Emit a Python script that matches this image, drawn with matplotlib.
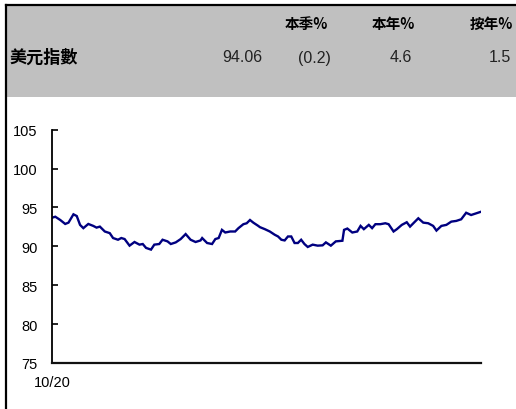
import matplotlib
matplotlib.use("Agg")
import matplotlib.pyplot as plt
from matplotlib.patches import Rectangle
from matplotlib.lines import Line2D

# US dollar index, trading-day offsets from the start of the window and levels
days = [0, 2, 5, 8, 10, 13, 15, 17, 19, 22, 25, 27, 29, 32, 35, 37, 40, 42, 44, 47,
        50, 53, 55, 57, 60, 62, 65, 67, 70, 72, 75, 78, 81, 84, 87, 90, 91, 94, 97, 99,
        101, 103, 105, 108, 111, 113, 116, 118, 120, 122, 125,
        126, 129, 132, 135, 137, 139, 141, 143, 145, 147, 149, 151, 153, 155, 158, 161,
        164, 166, 169, 172, 176, 177, 179, 182, 185, 187, 189, 192, 194, 196, 199, 202,
        204, 207, 209, 212, 215, 217, 219, 222, 225, 228, 231, 233, 236, 239, 242, 245,
        248, 251, 254, 257, 260]
dxy = [93.68, 93.81, 93.39, 92.88, 93.05, 94.12, 93.90, 92.76, 92.34, 92.88,
       92.63, 92.41, 92.54, 91.91, 91.70, 91.07, 90.85, 91.07, 90.94, 90.09,
       90.56, 90.22, 90.30, 89.80, 89.58, 90.22, 90.30, 90.85, 90.64, 90.30,
       90.51, 90.94, 91.58, 90.85, 90.56, 90.76, 91.07, 90.43, 90.30, 90.94,
       91.07, 92.12, 91.78, 91.91, 91.91, 92.34, 92.85, 92.97, 93.39, 93.05,
       92.63,
       92.47, 92.21, 91.91, 91.49, 91.27, 90.85, 90.76, 91.27, 91.27, 90.43,
       90.43, 90.85, 90.30, 89.92, 90.22, 90.09, 90.13, 90.51, 90.09, 90.64,
       90.72, 92.12, 92.29, 91.78, 91.91, 92.63, 92.21, 92.76, 92.34, 92.85,
       92.85, 92.97, 92.85, 91.91, 92.21, 92.76, 93.10, 92.54, 92.97, 93.61,
       93.05, 92.97, 92.63, 92.03, 92.63, 92.76, 93.18, 93.27, 93.48, 94.32,
       94.03, 94.24, 94.45]
y_ticks = [75, 80, 85, 90, 95, 100, 105]
x_tick_labels = ["10/20"]

# Summary table
row_name = "美元指數"
col_heads = ["本季%", "本年%", "按年%"]
row_values = ["94.06", "(0.2)", "4.6", "1.5"]

W, H = 516, 410
fig = plt.figure(figsize=(W / 100, H / 100), dpi=100)
fig.patch.set_facecolor("white")

cjk = ["Noto Sans CJK TC", "Liberation Sans", "DejaVu Sans"]
latin = ["Liberation Sans", "DejaVu Sans"]

def fx(px):
    return px / W

def fy(py):
    return 1 - py / H

# grey header band with black frame on top and left
fig.add_artist(Rectangle((fx(7), fy(98)), fx(W - 7), fy(7) - fy(98),
                         transform=fig.transFigure, facecolor="#c0c0c0",
                         edgecolor="none", zorder=0))
fig.add_artist(Line2D([fx(6), fx(W)], [fy(6), fy(6)], transform=fig.transFigure,
                      color="black", lw=1.6))
fig.add_artist(Line2D([fx(6), fx(6)], [fy(6), fy(H)], transform=fig.transFigure,
                      color="black", lw=1.6))

for txt, left in zip(col_heads, [285, 372, 470]):
    fig.text(fx(left), fy(24), txt, family=cjk, fontsize=10.5, fontweight="bold",
             ha="left", va="center", color="black")
fig.text(fx(10), fy(58), row_name, family=cjk, fontsize=12.3, fontweight="bold",
         ha="left", va="center", color="black")
for txt, right in zip(row_values, [262, 331, 412, 511]):
    fig.text(fx(right), fy(58), txt, family=latin, fontsize=11.5,
             ha="right", va="center", color="#222222")

# line chart
ax = fig.add_axes([fx(52), fy(364), fx(481) - fx(52), fy(130.7) - fy(364)])
ax.plot(days, dxy, color="#000080", lw=1.7, solid_joinstyle="miter")
ax.set_xlim(days[0], days[-1])
ax.set_ylim(75, 105)
ax.set_yticks(y_ticks)
ax.set_yticklabels([str(t) for t in y_ticks], family=latin, fontsize=10.5)
ax.set_xticks([days[0]])
ax.set_xticklabels(x_tick_labels, family=latin, fontsize=10.5)
ax.tick_params(axis="y", direction="in", length=4, width=1.2, pad=10.5, colors="black")
ax.tick_params(axis="x", length=0, pad=8.5, colors="black")
for side in ["top", "right"]:
    ax.spines[side].set_visible(False)
ax.spines["left"].set_linewidth(1.3)
ax.spines["bottom"].set_linewidth(1.6)
ax.spines["bottom"].set_color("#111111")
ax.set_facecolor("none")

fig.savefig("out.png", dpi=100)
